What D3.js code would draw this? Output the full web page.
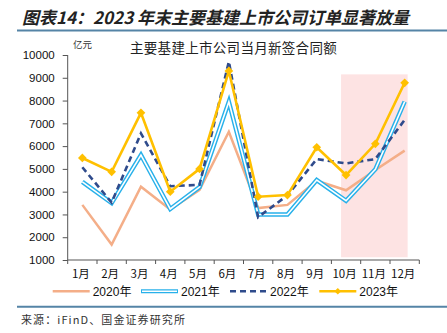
<!DOCTYPE html>
<html><head><meta charset="utf-8">
<script src="https://cdn.jsdelivr.net/npm/d3@7"></script>
<style>
html,body{margin:0;padding:0;background:#fff;}
svg{display:block;}
</style></head>
<body>
<svg id="c" width="447" height="333"></svg>
<script>
const months = ["1月","2月","3月","4月","5月","6月","7月","8月","9月","10月","11月","12月"];
const s2020 = [3420,1680,4220,3220,4080,6630,3280,3420,4480,4060,4950,5800];
const s2021 = [4430,3500,5610,3240,4200,7950,3000,3000,4510,3600,4980,7950];
const s2022 = [5070,3520,6560,4240,4300,9710,2880,3840,5430,5240,5430,7150];
const s2023 = [5480,4870,7460,4000,5000,9300,3780,3850,5950,4730,6100,8780];
const seriesNames = ["2020年","2021年","2022年","2023年"];
const yTicks = [1000,2000,3000,4000,5000,6000,7000,8000,9000,10000];
const shadeMonths = ["10月","12月"];
const shadeValues = [1120, 9150];
const titleText = "图表14：2023 年末主要基建上市公司订单显著放量";
const subTitle = "主要基建上市公司当月新签合同额";
const unitText = "亿元";
const sourceText = "来源：iFinD、国金证券研究所";

const FONT = "'Liberation Sans','Noto Sans CJK SC',sans-serif";
const CJK = "'Noto Sans CJK SC','Liberation Sans',sans-serif";
const svg = d3.select("#c");

const x = d3.scaleBand().domain(months).range([67.7, 419.3]);
const xc = m => x(m) + x.bandwidth()/2;
const y = d3.scaleLinear().domain([1000,10000]).range([260,55]);

// title
svg.append("text").attr("x",22).attr("y",23.5)
  .attr("font-family",CJK).attr("font-size",17).attr("font-weight","bold")
  .attr("font-style","italic").attr("fill","#222")
  .text(titleText);
svg.append("line").attr("x1",17).attr("x2",447).attr("y1",30.5).attr("y2",30.5)
  .attr("stroke","#5584a6").attr("stroke-width",2);

// shade
svg.append("rect")
  .attr("x", xc(shadeMonths[0]) - 5)
  .attr("width", xc(shadeMonths[1]) + 3 - (xc(shadeMonths[0]) - 5))
  .attr("y", y(shadeValues[1]))
  .attr("height", y(shadeValues[0]) - y(shadeValues[1]))
  .attr("fill","#fde3e3");

// subtitle & unit
svg.append("text").attr("x",130).attr("y",52.5)
  .attr("font-family",CJK).attr("font-size",13.5).attr("fill","#222")
  .attr("letter-spacing",0.3).text(subTitle);
svg.append("text").attr("x",73).attr("y",47.5)
  .attr("font-family",CJK).attr("font-size",9.5).attr("fill","#333").text(unitText);

// y axis
const yAxis = d3.axisLeft(y).tickValues(yTicks).tickSize(5).tickPadding(8).tickFormat(d3.format("d"));
const gy = svg.append("g").attr("transform","translate(67.7,0)").call(yAxis);
gy.selectAll("text").attr("font-family",FONT).attr("font-size",11.5).attr("fill","#111");
gy.selectAll("line,path").attr("stroke","#555");
gy.select(".domain").attr("d","M0,55V260");

// x axis
const xAxis = d3.axisBottom(x).tickSize(0).tickPadding(10);
const gx = svg.append("g").attr("transform","translate(0,260)").call(xAxis);
gx.select(".domain").attr("stroke","#555").attr("d","M67.7,0H419.3");
gx.selectAll("text").attr("font-family",CJK).attr("font-size",11.5).attr("fill","#111").attr("dx",-1.5);
gx.selectAll(".btick").data(months.concat(["end"])).enter().append("line")
  .attr("class","btick")
  .attr("x1",(d,i)=> i<months.length ? x(d) : x.range()[1])
  .attr("x2",(d,i)=> i<months.length ? x(d) : x.range()[1])
  .attr("y1",0).attr("y2",4).attr("stroke","#555");

const line = d3.line().x((d,i)=>xc(months[i])).y(d=>y(d));

// 2020
svg.append("path").attr("d",line(s2020)).attr("fill","none")
  .attr("stroke","#f4ae88").attr("stroke-width",2.5);
// 2021 double line
svg.append("path").attr("d",line(s2021)).attr("fill","none")
  .attr("stroke","#28b1ea").attr("stroke-width",4.5);
svg.append("path").attr("d",line(s2021)).attr("fill","none")
  .attr("stroke","#ffffff").attr("stroke-width",1.6);
// 2022 dashed
svg.append("path").attr("d",line(s2022)).attr("fill","none")
  .attr("stroke","#2f4b8c").attr("stroke-width",2.6).attr("stroke-dasharray","6,4");
// 2023
svg.append("path").attr("d",line(s2023)).attr("fill","none")
  .attr("stroke","#ffc000").attr("stroke-width",2.6);
svg.selectAll(".m23").data(s2023).enter().append("path")
  .attr("d",d3.symbol().type(d3.symbolSquare).size(38))
  .attr("transform",(d,i)=>`translate(${xc(months[i])},${y(d)}) rotate(45)`)
  .attr("fill","#ffc000");

// legend
const lg = svg.append("g");
const legX = [52.7,141,230,319.3];
const legY = 291.3;
const legW = 37;
seriesNames.forEach((n,i)=>{
  const x0 = legX[i];
  if(i===0){
    lg.append("line").attr("x1",x0).attr("x2",x0+legW).attr("y1",legY).attr("y2",legY)
      .attr("stroke","#f4ae88").attr("stroke-width",2.5);
  } else if(i===1){
    lg.append("line").attr("x1",x0).attr("x2",x0+legW).attr("y1",legY).attr("y2",legY)
      .attr("stroke","#28b1ea").attr("stroke-width",4);
    lg.append("line").attr("x1",x0+1).attr("x2",x0+legW-1).attr("y1",legY).attr("y2",legY)
      .attr("stroke","#fff").attr("stroke-width",1.4);
  } else if(i===2){
    lg.append("line").attr("x1",x0).attr("x2",x0+legW).attr("y1",legY).attr("y2",legY)
      .attr("stroke","#2f4b8c").attr("stroke-width",2.5).attr("stroke-dasharray","6,4");
  } else {
    lg.append("line").attr("x1",x0).attr("x2",x0+legW).attr("y1",legY).attr("y2",legY)
      .attr("stroke","#ffc000").attr("stroke-width",2.5);
    lg.append("path").attr("d",d3.symbol().type(d3.symbolSquare).size(22))
      .attr("transform",`translate(${x0+legW/2},${legY}) rotate(45)`).attr("fill","#ffc000");
  }
  lg.append("text").attr("x",x0+legW+3).attr("y",legY+4.3)
    .attr("font-family",FONT).attr("font-size",12).attr("fill","#111").text(n);
});

// bottom rule & source
svg.append("line").attr("x1",17).attr("x2",447).attr("y1",306.7).attr("y2",306.7)
  .attr("stroke","#5584a6").attr("stroke-width",2);
svg.append("text").attr("x",21).attr("y",323.5)
  .attr("font-family",CJK).attr("font-size",11).attr("letter-spacing",1.1)
  .attr("fill","#333").text(sourceText);
</script>
</body></html>
